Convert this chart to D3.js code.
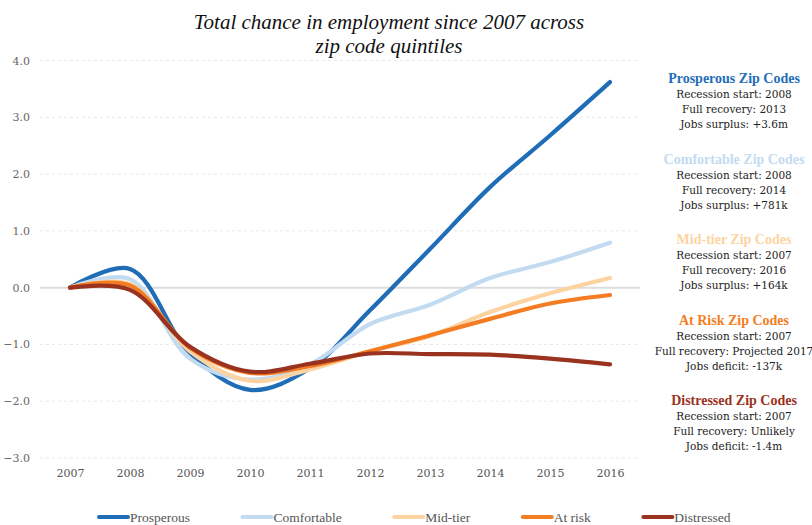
<!DOCTYPE html>
<html>
<head>
<meta charset="utf-8">
<script src="https://cdn.jsdelivr.net/npm/d3@7"></script>
<style>
  body { margin: 0; background: #fff; }
  svg { display: block; }
</style>
</head>
<body>
<div id="chart"></div>
<script>
// ********* data
var years = ["2007","2008","2009","2010","2011","2012","2013","2014","2015","2016"];
var seriesNames = ["Prosperous","Comfortable","Mid-tier","At risk","Distressed"];
var prosperous  = [0, 0.33, -1.15, -1.80, -1.42, -0.40, 0.68, 1.77, 2.68, 3.62];
var comfortable = [0, 0.15, -1.25, -1.62, -1.35, -0.64, -0.30, 0.17, 0.45, 0.79];
var midTier     = [0, 0.06, -1.12, -1.64, -1.44, -1.12, -0.85, -0.43, -0.10, 0.17];
var atRisk      = [0, 0.04, -1.06, -1.50, -1.38, -1.12, -0.84, -0.55, -0.28, -0.13];
var distressed  = [0, -0.04, -1.04, -1.48, -1.34, -1.16, -1.17, -1.18, -1.25, -1.35];
var yTicks = [-3, -2, -1, 0, 1, 2, 3, 4];

var notes = [
  {title: "Prosperous Zip Codes", lines: ["Recession start: 2008", "Full recovery: 2013", "Jobs surplus: +3.6m"]},
  {title: "Comfortable Zip Codes", lines: ["Recession start: 2008", "Full recovery: 2014", "Jobs surplus: +781k"]},
  {title: "Mid-tier Zip Codes", lines: ["Recession start: 2007", "Full recovery: 2016", "Jobs surplus: +164k"]},
  {title: "At Risk Zip Codes", lines: ["Recession start: 2007", "Full recovery: Projected 2017", "Jobs deficit: -137k"]},
  {title: "Distressed Zip Codes", lines: ["Recession start: 2007", "Full recovery: Unlikely", "Jobs deficit: -1.4m"]}
];

var colors = ["#1f6db7", "#c3dbf1", "#fdd3a1", "#f47c22", "#9a3220"];
var allSeries = [prosperous, comfortable, midTier, atRisk, distressed];

// ********* layout
var width = 812, height = 525;
var serif = "'Liberation Serif', serif";
var wideSerif = "'DejaVu Serif', serif";

var svg = d3.select("#chart")
  .append("svg")
    .attr("width", width)
    .attr("height", height);

var x = d3.scalePoint()
  .domain(years)
  .range([40, 640])
  .padding(0.5);

var y = d3.scaleLinear()
  .domain([-3, 4])
  .range([458, 60.5]);

// title
svg.append("text")
  .attr("x", 389).attr("y", 29)
  .attr("text-anchor", "middle")
  .style("font-family", serif).style("font-style", "italic").style("font-size", "21px")
  .attr("fill", "#111")
  .text("Total chance in employment since 2007 across");
svg.append("text")
  .attr("x", 389).attr("y", 53)
  .attr("text-anchor", "middle")
  .style("font-family", serif).style("font-style", "italic").style("font-size", "21px")
  .attr("fill", "#111")
  .text("zip code quintiles");

// gridlines
svg.append("g")
  .selectAll("line")
  .data(yTicks)
  .enter()
  .append("line")
    .attr("x1", 40).attr("x2", 640)
    .attr("y1", function(d) { return y(d); })
    .attr("y2", function(d) { return y(d); })
    .attr("stroke", function(d) { return d === 0 ? "#dddddd" : "#e8e8e8"; })
    .attr("stroke-width", function(d) { return d === 0 ? 2 : 1; })
    .attr("stroke-dasharray", function(d) { return d === 0 ? null : "3,3"; });

// y axis
var yAxis = svg.append("g")
  .attr("transform", "translate(30,0)")
  .call(d3.axisLeft(y).tickValues(yTicks).tickFormat(d3.format(".1f")).tickSize(0));
yAxis.select(".domain").remove();
yAxis.selectAll("text")
  .attr("x", 0)
  .attr("dy", "0.32em")
  .style("font-family", wideSerif).style("font-size", "11px")
  .attr("fill", "#666");

// x axis
var xAxis = svg.append("g")
  .attr("transform", "translate(0,466)")
  .call(d3.axisBottom(x).tickSize(0));
xAxis.select(".domain").remove();
xAxis.selectAll("text")
  .attr("dy", "0.71em")
  .style("font-family", wideSerif).style("font-size", "11px")
  .attr("fill", "#555");

// lines
var line = d3.line()
  .x(function(d, i) { return x(years[i]); })
  .y(function(d) { return y(d); })
  .curve(d3.curveCatmullRom.alpha(0.5));

svg.append("g")
  .selectAll("path")
  .data(allSeries)
  .enter()
  .append("path")
    .attr("d", line)
    .attr("fill", "none")
    .attr("stroke", function(d, i) { return colors[i]; })
    .attr("stroke-width", 4.2)
    .attr("stroke-linecap", "round")
    .attr("stroke-linejoin", "round");

// notes on the right
var noteG = svg.append("g")
  .selectAll("g")
  .data(notes)
  .enter()
  .append("g")
    .attr("transform", function(d, i) { return "translate(734," + (83 + i * 80.5) + ")"; });

noteG.append("text")
  .attr("text-anchor", "middle")
  .style("font-family", serif).style("font-weight", "bold").style("font-size", "14px")
  .attr("fill", function(d, i) { return colors[i]; })
  .text(function(d) { return d.title; });

noteG.selectAll("text.line")
  .data(function(d) { return d.lines; })
  .enter()
  .append("text")
    .attr("class", "line")
    .attr("y", function(d, i) { return 15 + i * 15; })
    .attr("text-anchor", "middle")
    .style("font-family", wideSerif).style("font-size", "10.5px")
    .attr("fill", "#222")
    .text(function(d) { return d; });

// legend
var legend = svg.append("g").attr("transform", "translate(0,517)");
var lx = 99;
seriesNames.forEach(function(name, i) {
  var g = legend.append("g").attr("transform", "translate(" + lx + ",0)");
  g.append("line")
    .attr("x1", 0).attr("x2", 29)
    .attr("y1", 0).attr("y2", 0)
    .attr("stroke", colors[i])
    .attr("stroke-width", 4)
    .attr("stroke-linecap", "round");
  var t = g.append("text")
    .attr("x", 31).attr("y", 4.5)
    .style("font-family", serif).style("font-size", "13.5px")
    .attr("fill", "#555")
    .text(name);
  lx += 31 + t.node().getComputedTextLength() + 52.5;
});
</script>
</body>
</html>
